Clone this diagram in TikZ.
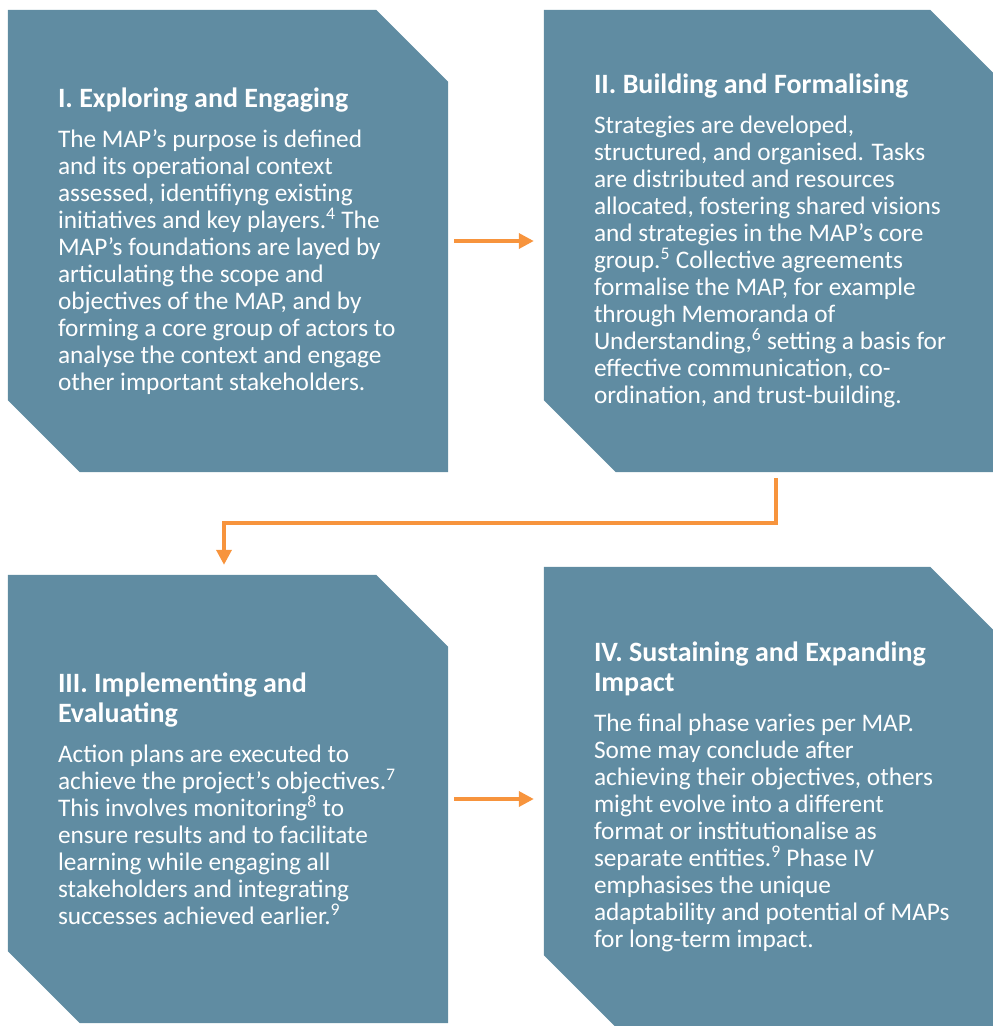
\documentclass[tikz,border=0pt]{standalone}
\usepackage{fontspec}
\setmainfont{Carlito}
\usepackage{xcolor}
\usetikzlibrary{arrows.meta,positioning}
\definecolor{phaseblue}{HTML}{608CA2}
\definecolor{phaseorange}{HTML}{F7943D}

% box with the top-right and bottom-left corners cut off
\newcommand{\phasecut}[1]{%
  \fill[phaseblue] (#1.north west) -- ([xshift=-72pt]#1.north east)
    -- ([yshift=-72pt]#1.north east) -- (#1.south east)
    -- ([xshift=72pt]#1.south west) -- ([yshift=72pt]#1.south west) -- cycle;}
% heading line(s) of a phase
\newcommand{\phasehead}[1]{{\fontsize{28}{30}\selectfont\bfseries #1}}

\begin{document}
\begin{tikzpicture}[
        x=1pt, y=-1pt,
        phase/.style={
            minimum width=440pt,
            minimum height=462pt,
            inner sep=0pt
        },
        phasetext/.style={
            anchor=west,
            align=left,
            inner sep=0pt,
            text=white,
            font=\fontsize{25.3}{27}\selectfont
        },
        flow/.style={-{Triangle[length=15pt,width=15pt]},line width=3.5pt,phaseorange}
    ]
        \useasboundingbox (0,0) rectangle (993,1026);
        \clip (0,0) rectangle (993,1026);

        \node[phase] (p1) at (228,241) {};
        \node[phase, minimum width=458pt] (p2) at (773,241) {};
        \node[phase, minimum height=448pt] (p3) at (228,799) {};
        \node[phase, minimum width=458pt, minimum height=460pt] (p4) at (773,797) {};
        \foreach \p in {p1,p2,p3,p4} {\phasecut{\p}}

        \node[phasetext] (t1) at ([xshift=50pt]p1.west) {%
            \phasehead{I. Exploring and Engaging}\\[13pt]
            The MAP’s purpose is defined\\
            and its operational context\\
            assessed, identifiyng existing\\
            initiatives and key players.\textsuperscript{4} The\\
            MAP’s foundations are layed by\\
            articulating the scope and\\
            objectives of the MAP, and by\\
            forming a core group of actors to\\
            analyse the context and engage\\
            other important stakeholders.};
        \node[phasetext] (t2) at ([xshift=50pt]p2.west) {%
            \phasehead{II. Building and Formalising}\\[13pt]
            Strategies are developed,\\
            structured, and organised. Tasks\\
            are distributed and resources\\
            allocated, fostering shared visions\\
            and strategies in the MAP’s core\\
            group.\textsuperscript{5} Collective agreements\\
            formalise the MAP, for example\\
            through Memoranda of\\
            Understanding,\textsuperscript{6} setting a basis for\\
            effective communication, co-\\
            ordination, and trust-building.};
        \node[phasetext] (t3) at ([xshift=50pt]p3.west) {%
            \phasehead{III. Implementing and}\\[3pt]
            \phasehead{Evaluating}\\[13pt]
            Action plans are executed to\\
            achieve the project’s objectives.\textsuperscript{7}\\
            This involves monitoring\textsuperscript{8} to\\
            ensure results and to facilitate\\
            learning while engaging all\\
            stakeholders and integrating\\
            successes achieved earlier.\textsuperscript{9}};
        \node[phasetext] (t4) at ([xshift=50pt]p4.west) {%
            \phasehead{IV. Sustaining and Expanding}\\[3pt]
            \phasehead{Impact}\\[13pt]
            The final phase varies per MAP.\\
            Some may conclude after\\
            achieving their objectives, others\\
            might evolve into a different\\
            format or institutionalise as\\
            separate entities.\textsuperscript{9} Phase IV\\
            emphasises the unique\\
            adaptability and potential of MAPs\\
            for long-term impact.};

        % phase order
        \draw[flow, shorten <=6pt, shorten >=10pt] (p1.east) -- (p2.west);
        \draw[flow] ([xshift=3pt,yshift=-6pt]p2.south) -- ++(0,45)
            -| ([xshift=-4pt,yshift=10pt]p3.north);
        \draw[flow, shorten <=6pt, shorten >=10pt] (p3.east) -- (p3.east -| p4.west);
    \end{tikzpicture}
\end{document}
